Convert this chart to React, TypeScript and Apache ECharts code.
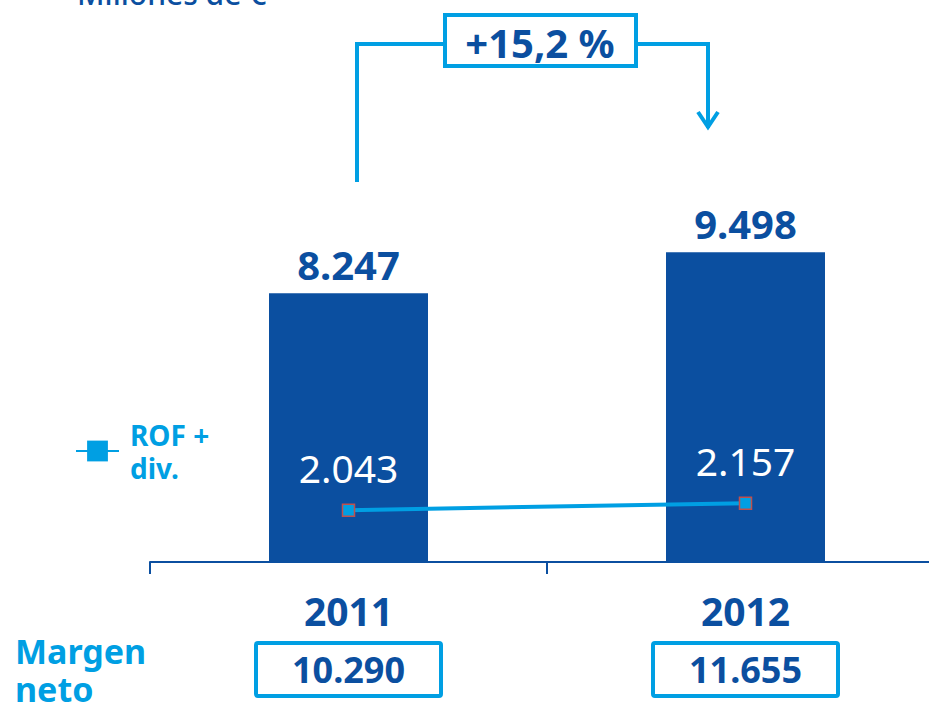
import React, { useEffect, useRef } from "react";
import * as echarts from "echarts";

const categories = ["2011", "2012"];
const margenNeto = [10290, 11655];
const margenNetoLabel = "Margen\nneto";
const margenBruto = [8247, 9498];
const rofDiv = [2043, 2157];
const rofName = "ROF + div.";
const growthLabel = "+15,2 %";
const unitLabel = "Millones de €";

const DARK = "#0b4fa0";
const LIGHT = "#009fe3";
const FONT = "Noto Sans";

const fmt = (v: number) => {
  const s = Math.round(v).toString();
  return s.replace(/\B(?=(\d{3})+(?!\d))/g, ".");
};

export default function App() {
  const ref = useRef<HTMLDivElement>(null);
  useEffect(() => {
    if (!ref.current) return;
    const chart = echarts.init(ref.current, undefined, { renderer: "svg" });
    chart.setOption({
      animation: false,
      backgroundColor: "#ffffff",
      textStyle: { fontFamily: FONT },
      grid: { left: 150, top: 236, right: 0, height: 326 },
      legend: {
        show: true,
        left: 75,
        top: 418,
        padding: 0,
        itemWidth: 43,
        itemHeight: 26,
        data: [{ name: rofName, itemStyle: { borderWidth: 0 } }],
        formatter: () => "ROF +\ndiv.",
        textStyle: {
          color: LIGHT,
          fontSize: 28,
          fontWeight: "bold",
          lineHeight: 33,
          fontFamily: FONT,
          padding: [0, 0, 0, 6],
        },
      },
      xAxis: [
        {
          type: "category",
          data: categories,
          boundaryGap: true,
          axisLine: { show: true, lineStyle: { color: DARK, width: 2 } },
          axisTick: { show: true, length: 12, lineStyle: { color: DARK, width: 2 } },
          axisLabel: {
            color: DARK,
            fontSize: 39,
            fontWeight: "bold",
            margin: 29,
            fontFamily: FONT,
          },
        },
        {
          type: "category",
          data: categories,
          position: "bottom",
          boundaryGap: true,
          axisLine: { show: false },
          axisTick: { show: false },
          axisLabel: {
            margin: 81,
            formatter: (_v: string, i: number) => fmt(margenNeto[i]),
            color: DARK,
            fontSize: 36,
            fontWeight: "bold",
            fontFamily: FONT,
            borderColor: LIGHT,
            borderWidth: 4,
            borderRadius: 2,
            width: 185,
            height: 53,
            lineHeight: 53,
            align: "center",
            padding: 0,
          },
        },
      ],
      yAxis: [
        { type: "value", min: 0, max: 10000, show: false },
        { type: "value", min: 1200, max: 6500, show: false },
      ],
      series: [
        {
          name: "Margen bruto",
          type: "bar",
          data: margenBruto,
          barWidth: 159,
          itemStyle: { color: DARK },
          label: {
            show: true,
            position: "top",
            distance: 9,
            formatter: (p: any) => fmt(p.value),
            color: DARK,
            fontSize: 40,
            fontWeight: "bold",
            fontFamily: FONT,
          },
        },
        {
          name: rofName,
          type: "line",
          yAxisIndex: 1,
          data: rofDiv,
          symbol: "rect",
          symbolSize: 12,
          lineStyle: { color: LIGHT, width: 4 },
          itemStyle: { color: LIGHT, borderColor: "#c0504d", borderWidth: 1.5 },
          label: {
            show: true,
            position: "top",
            distance: 16,
            formatter: (p: any) => fmt(p.value),
            color: "#ffffff",
            fontSize: 39,
            fontWeight: "normal",
            fontFamily: FONT,
          },
          z: 5,
        },
      ],
      graphic: [
        {
          type: "text",
          left: 77,
          top: -22,
          style: { text: unitLabel, fill: DARK, font: `500 30px "${FONT}"` },
        },
        {
          type: "text",
          x: 15,
          y: 632,
          style: {
            text: margenNetoLabel,
            fill: LIGHT,
            font: `bold 34px "${FONT}"`,
            lineHeight: 38,
          },
        },
        {
          type: "polyline",
          shape: { points: [[357, 182], [357, 44], [443, 44]] },
          style: { stroke: LIGHT, lineWidth: 4, fill: null },
        },
        {
          type: "polyline",
          shape: { points: [[637, 44], [708, 44], [708, 128]] },
          style: { stroke: LIGHT, lineWidth: 4, fill: null },
        },
        {
          type: "polyline",
          shape: { points: [[698, 112], [708, 127], [718, 112]] },
          style: { stroke: LIGHT, lineWidth: 4, fill: null },
        },
        {
          type: "rect",
          shape: { x: 445, y: 15, width: 191, height: 51 },
          style: { stroke: LIGHT, lineWidth: 4, fill: "#ffffff" },
        },
        {
          type: "text",
          x: 540,
          y: 42,
          style: {
            text: growthLabel,
            fill: DARK,
            font: `bold 40px "${FONT}"`,
            align: "center",
            verticalAlign: "middle",
          },
        },
      ],
    });
    return () => chart.dispose();
  }, []);
  return (
    <div
      style={{
        position: "fixed",
        left: 0,
        top: 0,
        width: 929,
        height: 704,
        overflow: "hidden",
        background: "#ffffff",
      }}
    >
      <div ref={ref} style={{ width: 944, height: 704 }} />
    </div>
  );
}
